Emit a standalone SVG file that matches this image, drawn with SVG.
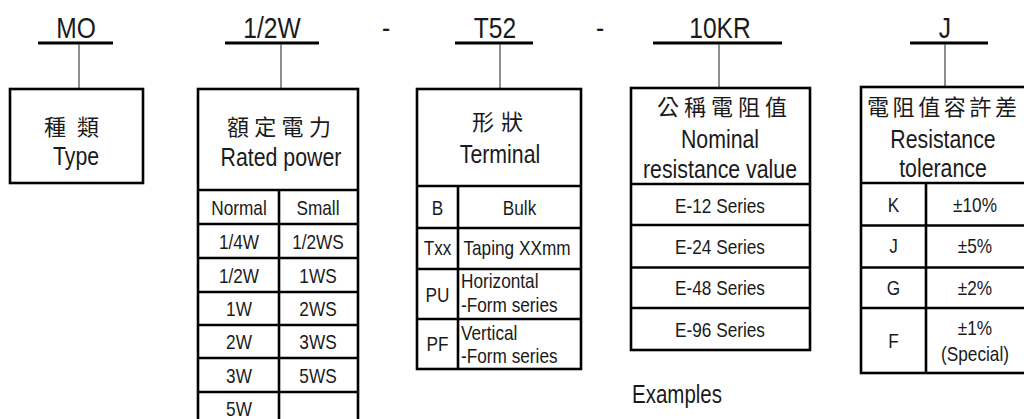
<svg xmlns="http://www.w3.org/2000/svg" width="1024" height="419" viewBox="0 0 1024 419">
<style>
.t{font-family:"Liberation Sans",Arial,sans-serif;fill:#1a1a1a}
.top{font-size:30px;text-anchor:middle}
.hd{font-size:26px;text-anchor:middle}
.c{font-size:21px;text-anchor:middle}
.l{font-size:21px}
.cjk{font-family:"Noto Sans CJK TC","Noto Sans CJK SC",sans-serif;font-size:22px;fill:#1a1a1a}
.box{fill:none;stroke:#000;stroke-width:2.6}
.ln{stroke:#000;stroke-width:2.6}
.ul{stroke:#000;stroke-width:3.2}
.con{stroke:#444;stroke-width:1.2}
</style>
<rect width="1024" height="419" fill="#fff"/>
<g id="labels">
<text class="t top" transform="translate(76,38) scale(.82,1)">MO</text>
<text class="t top" transform="translate(272,38) scale(.82,1)">1/2W</text>
<text class="t top" transform="translate(386,38) scale(.82,1)">-</text>
<text class="t top" transform="translate(495,38) scale(.82,1)">T52</text>
<text class="t top" transform="translate(600,38) scale(.82,1)">-</text>
<text class="t top" transform="translate(720,38) scale(.82,1)">10KR</text>
<text class="t top" transform="translate(945,38) scale(.82,1)">J</text>
<line class="ul" x1="38" y1="43" x2="113" y2="43"/>
<line class="ul" x1="225" y1="43" x2="319" y2="43"/>
<line class="ul" x1="455" y1="43" x2="533" y2="43"/>
<line class="ul" x1="653" y1="43" x2="782" y2="43"/>
<line class="ul" x1="910" y1="43" x2="988" y2="43"/>
</g>
<g id="connectors">
<line class="con" x1="79" y1="44" x2="79" y2="89"/>
<line class="con" x1="281" y1="44" x2="281" y2="89"/>
<line class="con" x1="500" y1="44" x2="500" y2="89"/>
<line class="con" x1="719" y1="44" x2="719" y2="88"/>
<line class="con" x1="945" y1="44" x2="945" y2="87"/>
</g>
<g id="type">
<rect class="box" x="10" y="89" width="133" height="94"/>
<text class="cjk" x="44" y="135" letter-spacing="11">種類</text>
<text class="t hd" transform="translate(76,165) scale(.82,1)">Type</text>
</g>
<g id="rated-power">
<rect class="box" x="198" y="89" width="160" height="340"/>
<line class="ln" x1="198" y1="190" x2="358" y2="190"/>
<line class="ln" x1="279" y1="190" x2="279" y2="429"/>
<line class="ln" x1="198" y1="224" x2="358" y2="224"/>
<line class="ln" x1="198" y1="258" x2="358" y2="258"/>
<line class="ln" x1="198" y1="292" x2="358" y2="292"/>
<line class="ln" x1="198" y1="325" x2="358" y2="325"/>
<line class="ln" x1="198" y1="358" x2="358" y2="358"/>
<line class="ln" x1="198" y1="392" x2="358" y2="392"/>
<text class="cjk" x="227" y="135" letter-spacing="5.3">額定電力</text>
<text class="t hd" transform="translate(281,166) scale(.82,1)">Rated power</text>
<text class="t c" transform="translate(239,215) scale(.82,1)">Normal</text><text class="t c" transform="translate(318,215) scale(.82,1)">Small</text>
<text class="t c" transform="translate(239,249) scale(.82,1)">1/4W</text><text class="t c" transform="translate(318,249) scale(.82,1)">1/2WS</text>
<text class="t c" transform="translate(239,283) scale(.82,1)">1/2W</text><text class="t c" transform="translate(318,283) scale(.82,1)">1WS</text>
<text class="t c" transform="translate(239,316) scale(.82,1)">1W</text><text class="t c" transform="translate(318,316) scale(.82,1)">2WS</text>
<text class="t c" transform="translate(239,349) scale(.82,1)">2W</text><text class="t c" transform="translate(318,349) scale(.82,1)">3WS</text>
<text class="t c" transform="translate(239,383) scale(.82,1)">3W</text><text class="t c" transform="translate(318,383) scale(.82,1)">5WS</text>
<text class="t c" transform="translate(239,416) scale(.82,1)">5W</text>
</g>
<g id="terminal">
<rect class="box" x="417" y="89" width="164" height="280"/>
<line class="ln" x1="417" y1="186" x2="581" y2="186"/>
<line class="ln" x1="458" y1="186" x2="458" y2="369"/>
<line class="ln" x1="417" y1="228" x2="581" y2="228"/>
<line class="ln" x1="417" y1="269" x2="581" y2="269"/>
<line class="ln" x1="417" y1="319" x2="581" y2="319"/>
<text class="cjk" x="472" y="130" letter-spacing="7">形狀</text>
<text class="t hd" transform="translate(500,163) scale(.82,1)">Terminal</text>
<text class="t c" transform="translate(437.5,215) scale(.82,1)">B</text><text class="t c" transform="translate(519.5,215) scale(.82,1)">Bulk</text>
<text class="t c" transform="translate(437.5,255) scale(.82,1)">Txx</text><text class="t c" transform="translate(517,255) scale(.82,1)">Taping XXmm</text>
<text class="t c" transform="translate(437.5,302) scale(.82,1)">PU</text>
<text class="t l" transform="translate(461,288) scale(.82,1)">Horizontal</text><text class="t l" transform="translate(461,312) scale(.82,1)">-Form series</text>
<text class="t c" transform="translate(437.5,351) scale(.82,1)">PF</text>
<text class="t l" transform="translate(461,340) scale(.82,1)">Vertical</text><text class="t l" transform="translate(461,363) scale(.82,1)">-Form series</text>
</g>
<g id="nominal">
<rect class="box" x="631" y="88" width="179" height="262"/>
<line class="ln" x1="631" y1="184" x2="810" y2="184"/>
<line class="ln" x1="631" y1="225" x2="810" y2="225"/>
<line class="ln" x1="631" y1="267.5" x2="810" y2="267.5"/>
<line class="ln" x1="631" y1="308" x2="810" y2="308"/>
<text class="cjk" x="657" y="115" letter-spacing="5">公稱電阻值</text>
<text class="t hd" transform="translate(720,148) scale(.82,1)">Nominal</text>
<text class="t hd" transform="translate(720,178) scale(.82,1)">resistance value</text>
<text class="t c" transform="translate(720,213) scale(.82,1)">E-12 Series</text>
<text class="t c" transform="translate(720,254) scale(.82,1)">E-24 Series</text>
<text class="t c" transform="translate(720,295) scale(.82,1)">E-48 Series</text>
<text class="t c" transform="translate(720,337) scale(.82,1)">E-96 Series</text>
</g>
<g id="tolerance">
<rect class="box" x="861" y="87" width="166" height="286"/>
<line class="ln" x1="861" y1="183" x2="1027" y2="183"/>
<line class="ln" x1="926" y1="183" x2="926" y2="373"/>
<line class="ln" x1="861" y1="225.5" x2="1027" y2="225.5"/>
<line class="ln" x1="861" y1="267.5" x2="1027" y2="267.5"/>
<line class="ln" x1="861" y1="308" x2="1027" y2="308"/>
<text class="cjk" x="867" y="115" letter-spacing="3.6">電阻值容許差</text>
<text class="t hd" transform="translate(943,148) scale(.82,1)">Resistance</text>
<text class="t hd" transform="translate(943,177) scale(.82,1)">tolerance</text>
<text class="t c" transform="translate(893.5,212) scale(.82,1)">K</text><text class="t c" transform="translate(975,212) scale(.82,1)">±10%</text>
<text class="t c" transform="translate(893.5,253) scale(.82,1)">J</text><text class="t c" transform="translate(975,253) scale(.82,1)">±5%</text>
<text class="t c" transform="translate(893.5,295) scale(.82,1)">G</text><text class="t c" transform="translate(975,295) scale(.82,1)">±2%</text>
<text class="t c" transform="translate(893.5,348) scale(.82,1)">F</text><text class="t c" transform="translate(975,335) scale(.82,1)">±1%</text>
<text class="t c" transform="translate(975,361) scale(.82,1)">(Special)</text>
</g>
<g id="examples">
<text class="t" font-size="25" transform="translate(632,403) scale(.82,1)">Examples</text>
</g>
</svg>
